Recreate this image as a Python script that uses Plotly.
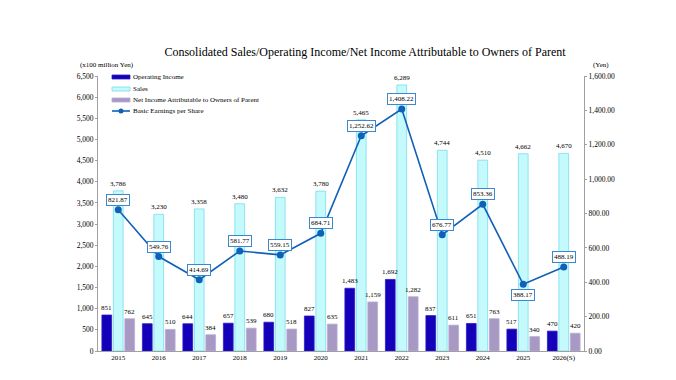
import plotly.graph_objects as go

years = ["2015", "2016", "2017", "2018", "2019", "2020", "2021", "2022", "2023", "2024", "2025", "2026(S)"]
operating_income = [851, 645, 644, 657, 680, 827, 1483, 1692, 837, 651, 517, 470]
sales = [3786, 3230, 3358, 3480, 3632, 3780, 5465, 6289, 4744, 4510, 4662, 4670]
net_income = [762, 510, 384, 539, 518, 635, 1159, 1282, 611, 763, 340, 420]
eps = [821.87, 549.76, 414.69, 581.77, 559.15, 684.71, 1252.62, 1408.22, 676.77, 853.36, 388.17, 488.19]
eps_label_below = [False, False, False, False, False, False, False, False, False, False, True, False]

left_ticks = list(range(0, 6501, 500))
right_ticks = list(range(0, 1601, 200))

series_names = ["Operating Income", "Sales", "Net Income Attributable to Owners of Parent", "Basic Earnings per Share"]
series_colors = ["#1400B8", "#C4FAFC", "#A898C4", "#1060B8"]
series_borders = ["#2A20C8", "#78DCEC", "#B8ACD4", "#1060B8"]

FONT = "Liberation Serif"
LBL = dict(family=FONT, size=7, color="#000")

# plot area in pixels (for paper-coordinate placement of legend / unit labels)
L, R, T, B = 90, 576, 68, 343
def px(xp):
    return (xp - L) / (R - L)
def py(yp):
    return (B - yp) / (B - T)

BARGAP, GROUPGAP = 0.15, 0.15
slot = (1 - BARGAP) / 3  # width of one bar slot in category units

fig = go.Figure()
bar_series = [operating_income, sales, net_income]
for k, vals in enumerate(bar_series):
    fig.add_trace(go.Bar(
        x=years, y=vals, name=series_names[k],
        marker=dict(color=series_colors[k], line=dict(color=series_borders[k], width=0.8)),
        showlegend=False,
    ))
fig.add_trace(go.Scatter(
    x=years, y=eps, name=series_names[3], yaxis="y2",
    mode="lines+markers", line=dict(color=series_colors[3], width=1.6),
    marker=dict(color=series_colors[3], size=7), cliponaxis=False, showlegend=False,
))

# bar value labels (annotations so they sit above neighbouring bars)
for k, vals in enumerate(bar_series):
    off = (k - 1) * slot
    for i, v in enumerate(vals):
        fig.add_annotation(x=i + off, y=v, xref="x", yref="y", text=f"{v:,}", showarrow=False,
                           yanchor="bottom", yshift=1, font=LBL)

# EPS labels
for i, (v, below) in enumerate(zip(eps, eps_label_below)):
    fig.add_annotation(
        x=i, y=v, xref="x", yref="y2", text=f"{v:,.2f}", showarrow=False,
        yshift=-11 if below else 10,
        font=LBL, bgcolor="#FFFFFF", bordercolor="#3A88D0", borderwidth=1, borderpad=1,
    )

# unit labels
fig.add_annotation(x=px(99), y=py(57), xref="paper", yref="paper", text="(x100 million Yen)",
                   showarrow=False, xanchor="center", yanchor="middle",
                   font=dict(family=FONT, size=7, color="#000"))
fig.add_annotation(x=px(593), y=py(57), xref="paper", yref="paper", text="(Yen)",
                   showarrow=False, xanchor="center", yanchor="middle",
                   font=dict(family=FONT, size=7, color="#000"))

# custom legend
leg_y = [69, 81, 92, 103]
for k in range(4):
    yc = leg_y[k]
    if k < 3:
        fig.add_shape(type="rect", xref="paper", yref="paper",
                      x0=px(104), x1=px(122), y0=py(yc + 2), y1=py(yc - 2),
                      fillcolor=series_colors[k], line=dict(color=series_borders[k], width=0.8))
    else:
        fig.add_shape(type="line", xref="paper", yref="paper",
                      x0=px(104), x1=px(122), y0=py(yc), y1=py(yc),
                      line=dict(color=series_colors[k], width=1.6))
        fig.add_shape(type="circle", xref="paper", yref="paper",
                      x0=px(110.5), x1=px(115.5), y0=py(yc + 2.5), y1=py(yc - 2.5),
                      fillcolor=series_colors[k], line=dict(color=series_colors[k], width=0))
    fig.add_annotation(x=px(123), y=py(yc), xref="paper", yref="paper", text=series_names[k],
                       showarrow=False, xanchor="left", yanchor="middle",
                       font=dict(family=FONT, size=7, color="#000"))

fig.update_layout(
    width=676, height=380,
    margin=dict(l=L, r=676 - R, t=T, b=380 - B),
    paper_bgcolor="#FFFFFF", plot_bgcolor="#FFFFFF",
    font=dict(family=FONT, size=7, color="#000"),
    title=dict(text="Consolidated Sales/Operating Income/Net Income Attributable to Owners of Parent",
               x=357 / 676, xanchor="center", y=1 - 44 / 380, yanchor="middle",
               font=dict(family=FONT, size=12, color="#000")),
    barmode="group", bargap=BARGAP, bargroupgap=GROUPGAP,
    showlegend=False,
    xaxis=dict(type="category", categoryorder="array", categoryarray=years, range=[-0.5, 11.5],
               showline=True, linecolor="#A0A0A0", linewidth=1,
               ticks="", tickfont=dict(family=FONT, size=7, color="#000"), showgrid=False),
    yaxis=dict(range=[0, 6500], tickvals=left_ticks, ticktext=[f"{v:,}" for v in left_ticks],
               showline=True, linecolor="#A0A0A0", linewidth=1, ticks="outside", ticklen=2,
               tickcolor="#A0A0A0", showgrid=False, zeroline=False,
               tickfont=dict(family=FONT, size=7.5, color="#000")),
    yaxis2=dict(range=[0, 1600], tickvals=right_ticks, ticktext=[f"{v:,.2f}" for v in right_ticks],
                overlaying="y", side="right", showline=True, linecolor="#A0A0A0", linewidth=1,
                ticks="outside", ticklen=2, tickcolor="#A0A0A0", showgrid=False, zeroline=False,
                tickfont=dict(family=FONT, size=7.5, color="#000")),
)

fig.write_html("out.html")
